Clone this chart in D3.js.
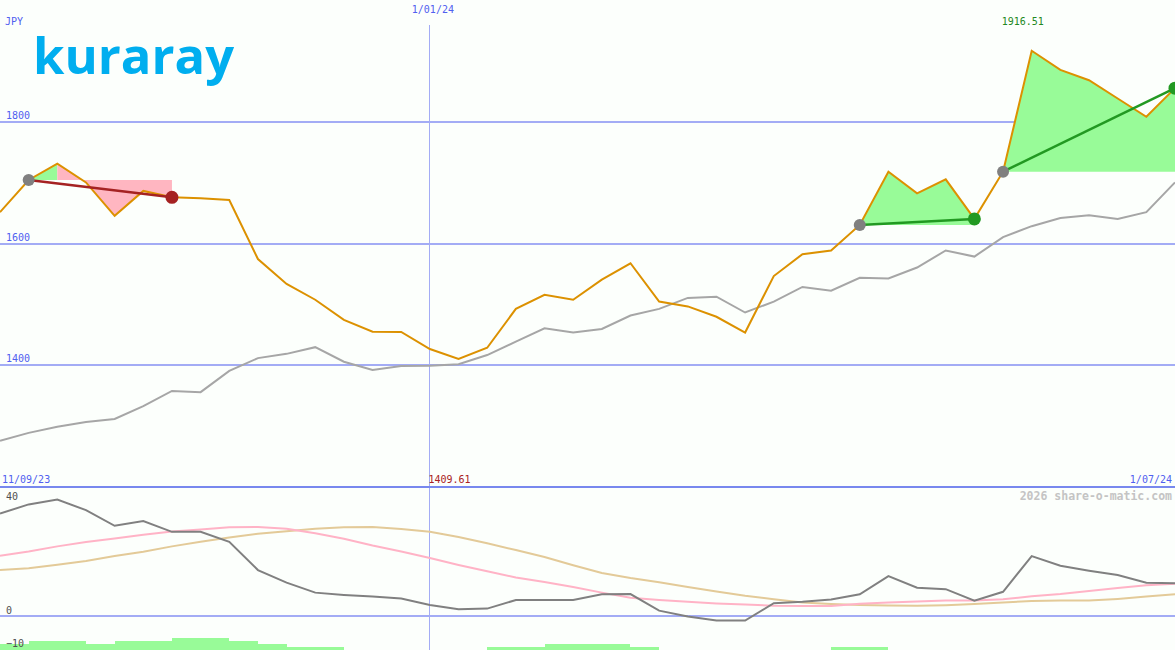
<!DOCTYPE html>
<html>
<head>
<meta charset="utf-8">
<script src="https://cdn.jsdelivr.net/npm/d3@7"></script>
<style>
  html, body { margin: 0; padding: 0; background: #fcfffc; }
  svg { display: block; }
  text { font-family: "DejaVu Sans Mono", monospace; }
</style>
</head>
<body>
<svg id="chart" width="1175" height="650"></svg>
<script>
// ---------------- DATA ----------------
const firstWeek = "2023-09-18";          // first weekly close
const weekCount = 42;
const periodLabels = ["11/09/23", "1/07/24"];
const markerDate = "2024-01-01";
const markerLabel = "1/01/24";
const currency = "JPY";

const price = [1651, 1704, 1731, 1700, 1645, 1686, 1675.5, 1674, 1671, 1574,
               1533, 1507, 1474, 1454.5, 1454, 1426, 1409.61, 1428, 1492, 1515,
               1507, 1540, 1567, 1504, 1496, 1479, 1453, 1546, 1582, 1588,
               1630, 1717.6, 1682, 1705, 1640, 1717.6, 1916.51, 1885, 1868, 1838,
               1808, 1855];
const movingAvg = [1275, 1288, 1298, 1306, 1311, 1332, 1357, 1355, 1390, 1411,
                   1418, 1429, 1405, 1391.5, 1398, 1398.5, 1401, 1416, 1438, 1460,
                   1453, 1459, 1481, 1492, 1510, 1512, 1486, 1504, 1528, 1522,
                   1543, 1542, 1560, 1588, 1578, 1610, 1628, 1641.5, 1646, 1640,
                   1651, 1700];

const oscMain = [35.7, 38.9, 40.6, 36.9, 31.4, 33.1, 29.3, 29.3, 25.8, 15.9,
                 11.5, 8.0, 7.2, 6.6, 5.9, 3.7, 2.2, 2.4, 5.4, 5.4,
                 5.4, 7.4, 7.5, 1.7, -0.4, -1.8, -1.8, 4.3, 4.8, 5.6,
                 7.4, 13.8, 9.7, 9.2, 5.2, 8.3, 20.8, 17.4, 15.7, 14.2,
                 11.5, 11.3];
const oscFast = [20.9, 22.4, 24.2, 25.7, 27.0, 28.3, 29.4, 30.1, 30.9, 31.0,
                 30.4, 28.8, 26.9, 24.5, 22.4, 20.1, 17.7, 15.5, 13.3, 11.7,
                 10.0, 8.0, 6.2, 5.4, 4.8, 4.2, 3.8, 3.4, 3.3, 3.3,
                 4.1, 4.5, 4.9, 5.2, 5.2, 5.7, 6.7, 7.5, 8.6, 9.6,
                 10.6, 11.1];
const oscSlow = [15.9, 16.5, 17.8, 19.1, 20.8, 22.3, 24.2, 25.8, 27.3, 28.6,
                 29.5, 30.4, 30.9, 31.0, 30.3, 29.3, 27.5, 25.3, 22.9, 20.5,
                 17.6, 14.9, 13.1, 11.6, 10.0, 8.4, 6.9, 5.7, 4.5, 4.0,
                 3.7, 3.5, 3.4, 3.6, 4.0, 4.5, 5.1, 5.2, 5.2, 5.8,
                 6.6, 7.4];
// histogram step per week interval (week i -> i+1)
const histo = [2, 3, 3, 2, 3, 3, 4, 4, 3, 2,
               1, 1, 0, 0, 0, 0, 0, 1, 1, 2,
               2, 2, 1, 0, 0, 0, 0, 0, 0, 1,
               1, 0, 0, 0, 0, 0, 0, 0, 0, 0, 0];

const mainTicks = [1400, 1600, 1800];
const lowTicks = [40, 0, -10];

// swing annotations (indices into price)
const swings = [
  {from: 1, to: 6, dir: "down"},
  {from: 30, to: 34, dir: "up"},
  {from: 35, to: 41, dir: "up"}
];
const swingBands = [
  {from: 1, to: 2, base: 1, kind: "up"},
  {from: 2, to: 6, base: 1, kind: "down"},
  {from: 30, to: 34, base: 30, kind: "up"},
  {from: 35, to: 41, base: 35, kind: "up"}
];

// ---------------- SETUP ----------------
const W = 1175, H = 650;
const parse = d3.timeParse("%Y-%m-%d");
const dates = d3.range(weekCount).map(i => d3.timeWeek.offset(parse(firstWeek), i));
const svg = d3.select("#chart");

const x = d3.scaleTime().domain([dates[0], dates[weekCount - 1]]).range([0, W]);
const yMain = d3.scaleLinear().domain([1200, 2000]).range([486.4, 0]);
const yLow = d3.scaleLinear().domain([-12.1, 45]).range([650, 487]);
const yBar = d3.scaleLinear().domain([0, 4]).range([650, 638]);

const gridColor = "#a3acf5";
const blueText = "#5060f0";
const green = "#98fb98", pink = "#ffb6c1";

svg.append("rect").attr("width", W).attr("height", H).attr("fill", "#fcfffc");

// logo
svg.append("text")
  .attr("x", 33).attr("y", 74)
  .attr("textLength", 201).attr("lengthAdjust", "spacingAndGlyphs")
  .style("font-family", "'Open Sans', sans-serif")
  .style("font-weight", 700).style("font-size", "50px")
  .attr("fill", "#00aeef")
  .text("kuraray");

// lower histogram bars (behind axis labels)
svg.append("g").selectAll("rect")
  .data(histo.map((v, i) => ({v, i})).filter(d => d.v > 0))
  .join("rect")
  .attr("x", d => x(dates[d.i]))
  .attr("width", d => x(dates[d.i + 1]) - x(dates[d.i]))
  .attr("y", d => yBar(d.v))
  .attr("height", d => yBar(0) - yBar(d.v))
  .attr("fill", green)
  .attr("shape-rendering", "crispEdges");

// main gridlines via axis
const gMain = svg.append("g").call(
  d3.axisRight(yMain).tickValues(mainTicks).tickSize(W).tickFormat(d3.format("d")));
gMain.select(".domain").remove();
gMain.selectAll(".tick line").attr("stroke", gridColor).attr("stroke-width", 2)
  .attr("shape-rendering", "crispEdges");
gMain.selectAll(".tick text").attr("x", 6).attr("dy", null).attr("y", -3)
  .attr("text-anchor", "start").attr("fill", blueText)
  .style("font-family", "'DejaVu Sans Mono', monospace").style("font-size", "10px");

// lower panel gridline at 0
const gLow = svg.append("g").call(
  d3.axisRight(yLow).tickValues(lowTicks).tickSize(W).tickFormat(d3.format("d")));
gLow.select(".domain").remove();
gLow.selectAll(".tick line")
  .attr("stroke", d => d === 0 ? gridColor : "none").attr("stroke-width", 2)
  .attr("shape-rendering", "crispEdges");
gLow.selectAll(".tick text").attr("x", 6).attr("dy", null)
  .attr("y", d => d < 0 ? 2 : -2)
  .attr("text-anchor", "start").attr("fill", "#505050")
  .style("font-family", "'DejaVu Sans Mono', monospace").style("font-size", "10px");

// vertical date marker
const mx = x(parse(markerDate));
svg.append("line").attr("x1", mx).attr("x2", mx).attr("y1", 25).attr("y2", H)
  .attr("stroke", gridColor).attr("stroke-width", 1).attr("shape-rendering", "crispEdges");
svg.append("text").attr("x", mx + 3).attr("y", 12.5).attr("text-anchor", "middle")
  .attr("fill", blueText).style("font-size", "10px").text(markerLabel);

// currency
svg.append("text").attr("x", 5).attr("y", 25).attr("fill", blueText)
  .style("font-size", "10px").text(currency);

// swing bands (fills between price and base level)
swingBands.forEach(b => {
  const idx = d3.range(b.from, b.to + 1);
  const base = price[b.base];
  svg.append("path")
    .datum(idx)
    .attr("fill", b.kind === "up" ? green : pink)
    .attr("d", d3.area()
      .x(i => x(dates[i]))
      .y0(yMain(base))
      .y1(i => yMain(price[i])));
});

// separator line between panels
svg.append("line").attr("x1", 0).attr("x2", W).attr("y1", 487).attr("y2", 487)
  .attr("stroke", "#7888ee").attr("stroke-width", 2).attr("shape-rendering", "crispEdges");

// lines
const mainLine = arr => d3.line().x((d, i) => x(dates[i])).y(d => yMain(d))(arr);
const lowLine = arr => d3.line().x((d, i) => x(dates[i])).y(d => yLow(d))(arr);

svg.append("path").attr("d", mainLine(movingAvg)).attr("fill", "none")
  .attr("stroke", "#a6a6a6").attr("stroke-width", 2);
svg.append("path").attr("d", mainLine(price)).attr("fill", "none")
  .attr("stroke", "#dc9100").attr("stroke-width", 2);

svg.append("path").attr("d", lowLine(oscSlow)).attr("fill", "none")
  .attr("stroke", "#e3ca98").attr("stroke-width", 2);
svg.append("path").attr("d", lowLine(oscFast)).attr("fill", "none")
  .attr("stroke", "#ffb3c6").attr("stroke-width", 2);
svg.append("path").attr("d", lowLine(oscMain)).attr("fill", "none")
  .attr("stroke", "#808080").attr("stroke-width", 2);

// swing lines and dots
swings.forEach(s => {
  const col = s.dir === "up" ? "#229922" : "#a52222";
  svg.append("line")
    .attr("x1", x(dates[s.from])).attr("y1", yMain(price[s.from]))
    .attr("x2", x(dates[s.to])).attr("y2", yMain(price[s.to]))
    .attr("stroke", col).attr("stroke-width", 2.5);
  svg.append("circle").attr("cx", x(dates[s.from])).attr("cy", yMain(price[s.from]))
    .attr("r", 6).attr("fill", "#808080");
  svg.append("circle").attr("cx", x(dates[s.to])).attr("cy", yMain(price[s.to]))
    .attr("r", 6.5).attr("fill", col);
});

// extreme labels
const iMax = d3.maxIndex(price), iMin = d3.minIndex(price);
svg.append("text").attr("x", x(dates[iMax]) - 9).attr("y", 25).attr("text-anchor", "middle")
  .attr("fill", "#228822").style("font-size", "10px").text(d3.format(".2f")(price[iMax]));
svg.append("text").attr("x", x(dates[iMin]) - 9).attr("y", 482.5).attr("text-anchor", "middle")
  .attr("fill", "#aa2222").style("font-size", "10px").text(d3.format(".2f")(price[iMin]));

// period labels
svg.append("text").attr("x", 2).attr("y", 482.5).attr("fill", blueText)
  .style("font-size", "10px").text(periodLabels[0]);
svg.append("text").attr("x", 1172).attr("y", 482.5).attr("text-anchor", "end")
  .attr("fill", blueText).style("font-size", "10px").text(periodLabels[1]);

// watermark
svg.append("text").attr("x", 1172).attr("y", 500).attr("text-anchor", "end")
  .attr("fill", "#c4c4c4").style("font-size", "11.5px").style("font-weight", "bold")
  .text("2026 share-o-matic.com");
</script>
</body>
</html>
